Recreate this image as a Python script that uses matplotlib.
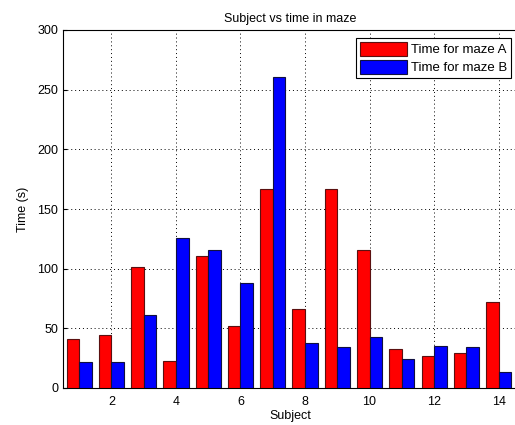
import matplotlib
matplotlib.use("Agg")
import matplotlib.pyplot as plt
import numpy as np

plt.rcParams['font.family'] = ['Liberation Sans', 'DejaVu Sans']

subjects = list(range(1, 15))
time_a = [41, 44, 101, 23, 111, 52, 167, 66, 167, 116, 33, 27, 29, 72]
time_b = [22, 22, 61, 126, 116, 88, 261, 38, 34, 43, 24, 35, 34, 13]
xticks = [2, 4, 6, 8, 10, 12, 14]
yticks = [0, 50, 100, 150, 200, 250, 300]

fig = plt.figure(figsize=(5.15, 4.25), dpi=100)
ax = fig.add_axes([63/515, 37/425, 455/515, 358/425])

x = np.array(subjects)
w = 0.39
ax.bar(x - w/2, time_a, width=w, color='#ff0000', edgecolor='#5a1010', linewidth=0.8,
       label='Time for maze A', zorder=3)
ax.bar(x + w/2, time_b, width=w, color='#0000ff', edgecolor='#101040', linewidth=0.8,
       label='Time for maze B', zorder=3)

ax.set_xlim(0.5, 14.6)
ax.set_ylim(0, 300)
ax.set_xticks(xticks)
ax.set_yticks(yticks)
ax.tick_params(direction='in', length=3, labelsize=9, colors='black')
ax.tick_params(axis='x', pad=6)
ax.grid(True, linestyle=(0, (1, 3)), color='black', linewidth=0.7, zorder=0)
ax.set_axisbelow(True)
for s in ax.spines.values():
    s.set_linewidth(0.8)

ax.set_title('Subject vs time in maze', fontsize=9, pad=6)
ax.set_xlabel('Subject', fontsize=9, labelpad=1)
ax.set_ylabel('Time (s)', fontsize=9, labelpad=6)

leg = ax.legend(loc='upper right', bbox_to_anchor=(0.985, 0.978), fontsize=9.5,
                fancybox=False, framealpha=1, edgecolor='black',
                handlelength=3.6, handleheight=1.3, borderpad=0.3,
                labelspacing=0.25, handletextpad=0.3, borderaxespad=0)
leg.get_frame().set_linewidth(0.8)

fig.savefig('out.png', dpi=100)
